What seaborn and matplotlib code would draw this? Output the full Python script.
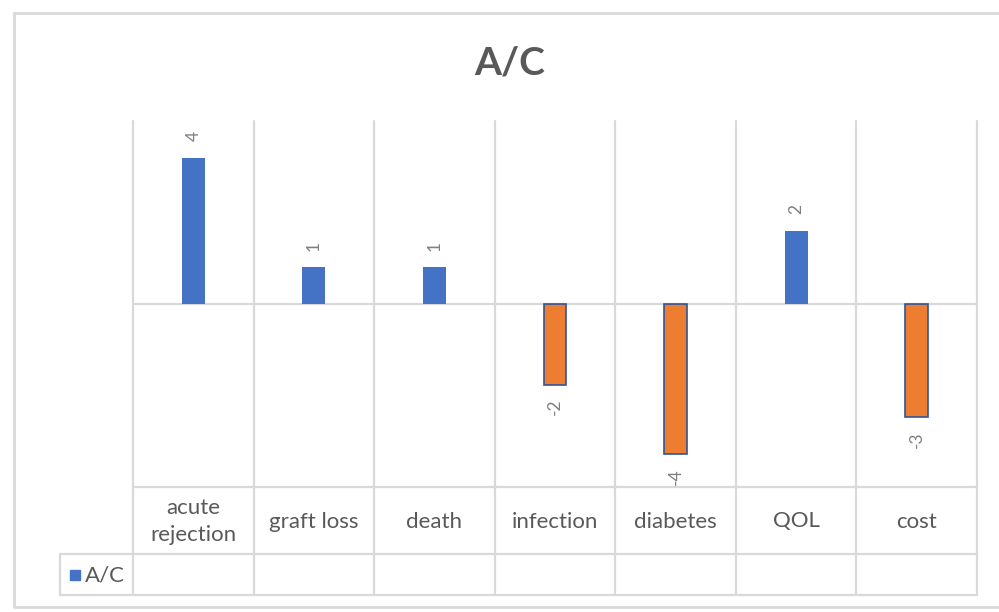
import matplotlib
matplotlib.use("Agg")
import matplotlib.pyplot as plt
import matplotlib.transforms as mtransforms
from matplotlib.lines import Line2D
from matplotlib.patches import Rectangle
import seaborn as sns
import pandas as pd

# Data
categories = ["acute\nrejection", "graft loss", "death", "infection", "diabetes", "QOL", "cost"]
values = [4, 1, 1, -2.2, -4.1, 2, -3.1]
series_name = "A/C"
title = "A/C"

POS_COLOR = "#4472c4"
NEG_COLOR = "#ed7d31"
NEG_EDGE = "#2f5597"
GRID = "#d9d9d9"
TEXT = "#595959"
LABEL = "#7f7f7f"

sns.set_theme(style="white")
plt.rcParams["font.family"] = ["Lato", "DejaVu Sans"]

W, H = 999, 612
fig = plt.figure(figsize=(W / 100, H / 100), dpi=100)

# plot area in pixels
left, right, top, bottom = 133, 977, 121, 487
ax = fig.add_axes([left / W, 1 - bottom / H, (right - left) / W, (bottom - top) / H])

df = pd.DataFrame({"category": categories, "value": values})
df["sign"] = ["pos" if v >= 0 else "neg" for v in values]

sns.barplot(data=df, x="category", y="value", hue="sign",
            palette={"pos": POS_COLOR, "neg": NEG_COLOR},
            dodge=False, width=0.19, legend=False, ax=ax,
            linewidth=0, saturation=1)

for p in ax.patches:
    if p.get_height() < 0:
        p.set_edgecolor(NEG_EDGE)
        p.set_linewidth(1.2)

ax.set_ylim(-5, 5)
ax.set_xlim(-0.5, len(categories) - 0.5)
ax.set_xlabel("")
ax.set_ylabel("")
ax.set_xticks([])
ax.set_yticks([])
for s in ax.spines.values():
    s.set_visible(False)

# zero line
ax.axhline(0, color=GRID, lw=1.6, zorder=0.5)

# data labels (rotated)
for i, v in enumerate(values):
    if v >= 0:
        ax.annotate(f"{v:.0f}", (i, v), xytext=(0, 12), textcoords="offset points",
                    rotation=90, ha="center", va="bottom", color=LABEL, fontsize=12.5)
    else:
        ax.annotate(f"{v:.0f}", (i, v), xytext=(0, -10), textcoords="offset points",
                    rotation=90, ha="center", va="top", color=LABEL, fontsize=12.5)

# data table below the plot area
ax_h = bottom - top
row1_bot = 554
row2_bot = 595
legend_left = 60


def ay(ypx):
    return (bottom - ypx) / ax_h


for k in range(len(categories) + 1):
    ax.axvline(k - 0.5, ymin=ay(row2_bot), ymax=1, color=GRID, lw=1.6,
               clip_on=False, zorder=0.4)

trans = mtransforms.blended_transform_factory(ax.transData, ax.transAxes)
x0, x1 = -0.5, len(categories) - 0.5
ax.add_line(Line2D([x0, x1], [ay(bottom), ay(bottom)], transform=trans,
                   color=GRID, lw=1.6, clip_on=False))


def fx(xpx):
    return xpx / W


def fy(ypx):
    return 1 - ypx / H


# rows reaching into the legend column
for ypx in (row1_bot, row2_bot):
    fig.add_artist(Line2D([fx(legend_left), fx(right)], [fy(ypx), fy(ypx)],
                          color=GRID, lw=1.6))
fig.add_artist(Line2D([fx(legend_left), fx(legend_left)], [fy(row1_bot), fy(row2_bot)],
                      color=GRID, lw=1.6))

# category labels
for i, c in enumerate(categories):
    ax.text(i, ay((bottom + row1_bot) / 2 + 1), c, transform=trans, ha="center",
            va="center", color=TEXT, fontsize=16, linespacing=1.45)

# legend key inside the table
fig.add_artist(Rectangle((fx(70), fy(580)), 10 / W, 10 / H, color=POS_COLOR))
fig.text(fx(85), fy(575), series_name, ha="left", va="center", color=TEXT, fontsize=16)

# title
fig.text(fx(510), fy(63), title, ha="center", va="center", color=TEXT,
         fontsize=28, fontweight="bold")

# chart frame
fig.add_artist(Line2D([fx(14), fx(1010), fx(1010), fx(14), fx(14)],
                      [fy(13), fy(13), fy(607), fy(607), fy(13)],
                      color=GRID, lw=2))

fig.savefig("out.png", dpi=100, facecolor="white")
